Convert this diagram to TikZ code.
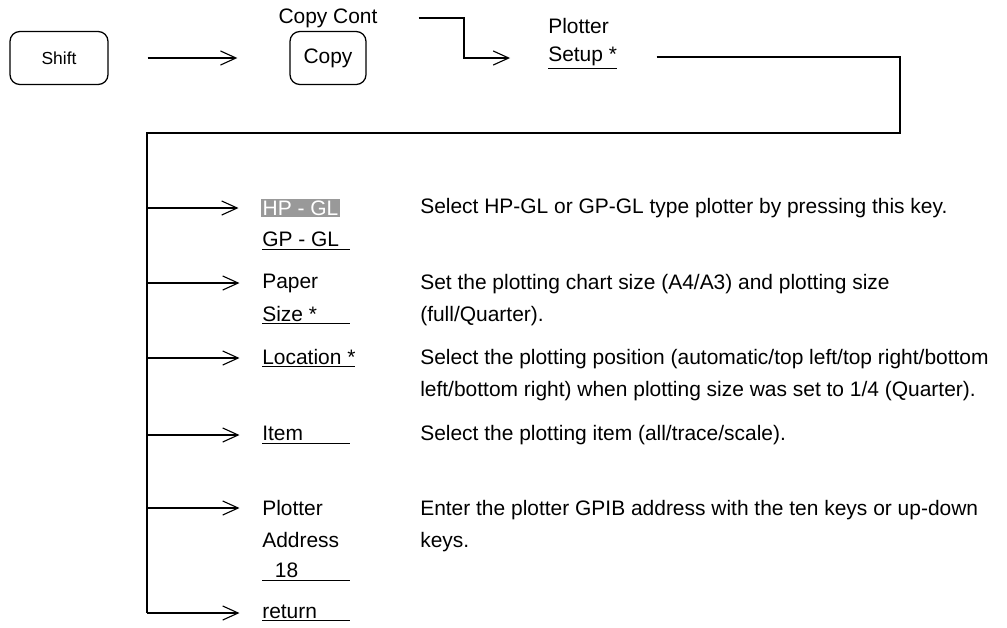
\documentclass[tikz,border=0pt]{standalone}
\usepackage{fontspec}
\setmainfont{Liberation Sans}
\usetikzlibrary{arrows.meta, positioning, calc}

\newcommand{\ulbox}[2][62.5pt]{\underline{\makebox[#1][l]{#2}}}

\tikzset{
  keybox/.style={draw, line width=0.9pt, rounded corners=7pt, inner sep=0pt},
  lbl/.style={anchor=west, inner sep=0pt},
  desc/.style={anchor=base west, inner sep=0pt, align=left},
  arr/.style={-{Straight Barb[length=11pt, width=10pt]}, line width=0.8pt},
  wire/.style={line width=0.8pt},
}

\begin{document}
\begin{tikzpicture}[x=0.025cm, y=-0.025cm, font=\fontsize{14.9}{22.7}\selectfont]
\useasboundingbox (0,0) rectangle (1007,627);

% ============================================================
% Top row: Shift -> Copy -> Plotter Setup
% ============================================================
\node[keybox, minimum width=98*0.7113pt, minimum height=53*0.7113pt,
      font=\fontsize{12.4}{14}\selectfont] (shift) at (59,58) {Shift};
\node[keybox, minimum width=76*0.7113pt, minimum height=53*0.7113pt] (copy) at (328,58) {Copy};
\node[inner sep=0pt] (copycont) at (328,18) {Copy Cont};

\node[lbl] (plotter) at (548,26) {Plotter};
\node[lbl] (setup) at (548,58) {\underline{Setup *}};

\draw[arr, shorten <=27.7pt, shorten >=37pt] (shift) -- (copy);

% Copy Cont -> Setup
\coordinate (bendA) at (464,18);
\coordinate (bendB) at (464,58);
\draw[arr, shorten >=27pt] ([xshift=29pt]copycont.east) -- (bendA) -- (bendB) -- (setup.west);

% Setup -> down to the trunk
\coordinate (rtop) at (900,57);
\coordinate (rbot) at (900,133);
\coordinate (trunk) at (147,133);
\coordinate (dcol) at (420,0);

% ============================================================
% Soft-key column
% ============================================================
\node[lbl, fill=black!40, text=white, inner xsep=1pt, inner ysep=1pt] (hp) at (261,208) {HP - GL};
\node[lbl] (gp) at (262,241) {\ulbox{GP - GL}};
\node[lbl] (paper) at (262,283) {Paper};
\node[lbl] (size) at (262,315) {\ulbox{Size *}};
\node[lbl] (loc) at (262,358) {\underline{Location *}};
\node[lbl] (item) at (262,435) {\ulbox{Item}};
\node[lbl] (plotaddr) at (262,508) {Plotter};
\node[lbl] (address) at (262,540) {Address};
\node[lbl] (addr) at (262,572) {\ulbox{\hspace{9pt}18}};
\node[lbl] (ret) at (262,613) {\ulbox{return}};

\draw[wire, shorten <=28pt] (setup.east |- rtop) -- (rtop) -- (rbot) -- (trunk) -- (trunk |- ret.west);

\foreach \k in {hp, paper, loc, item, plotaddr, ret}
  \draw[arr, shorten >=16pt] (trunk |- \k.west) -- (\k.west);

% Descriptions (base = last line)
\node[anchor=west, inner sep=0pt] (dhp) at (dcol |- hp.west) {Select HP-GL or GP-GL type plotter by pressing this key.};
\node[desc] (dpaper) at (dcol |- size.base) {Set the plotting chart size (A4/A3) and plotting size\\(full/Quarter).};
\node[desc] (dloc) at ($(dcol |- loc.base)+(0,32)$) {Select the plotting position (automatic/top left/top right/bottom\\left/bottom right) when plotting size was set to 1/4 (Quarter).};
\node[desc] (ditem) at (dcol |- item.base) {Select the plotting item (all/trace/scale).};
\node[desc] (daddr) at (dcol |- address.base) {Enter the plotter GPIB address with the ten keys or up-down\\keys.};

\end{tikzpicture}
\end{document}
